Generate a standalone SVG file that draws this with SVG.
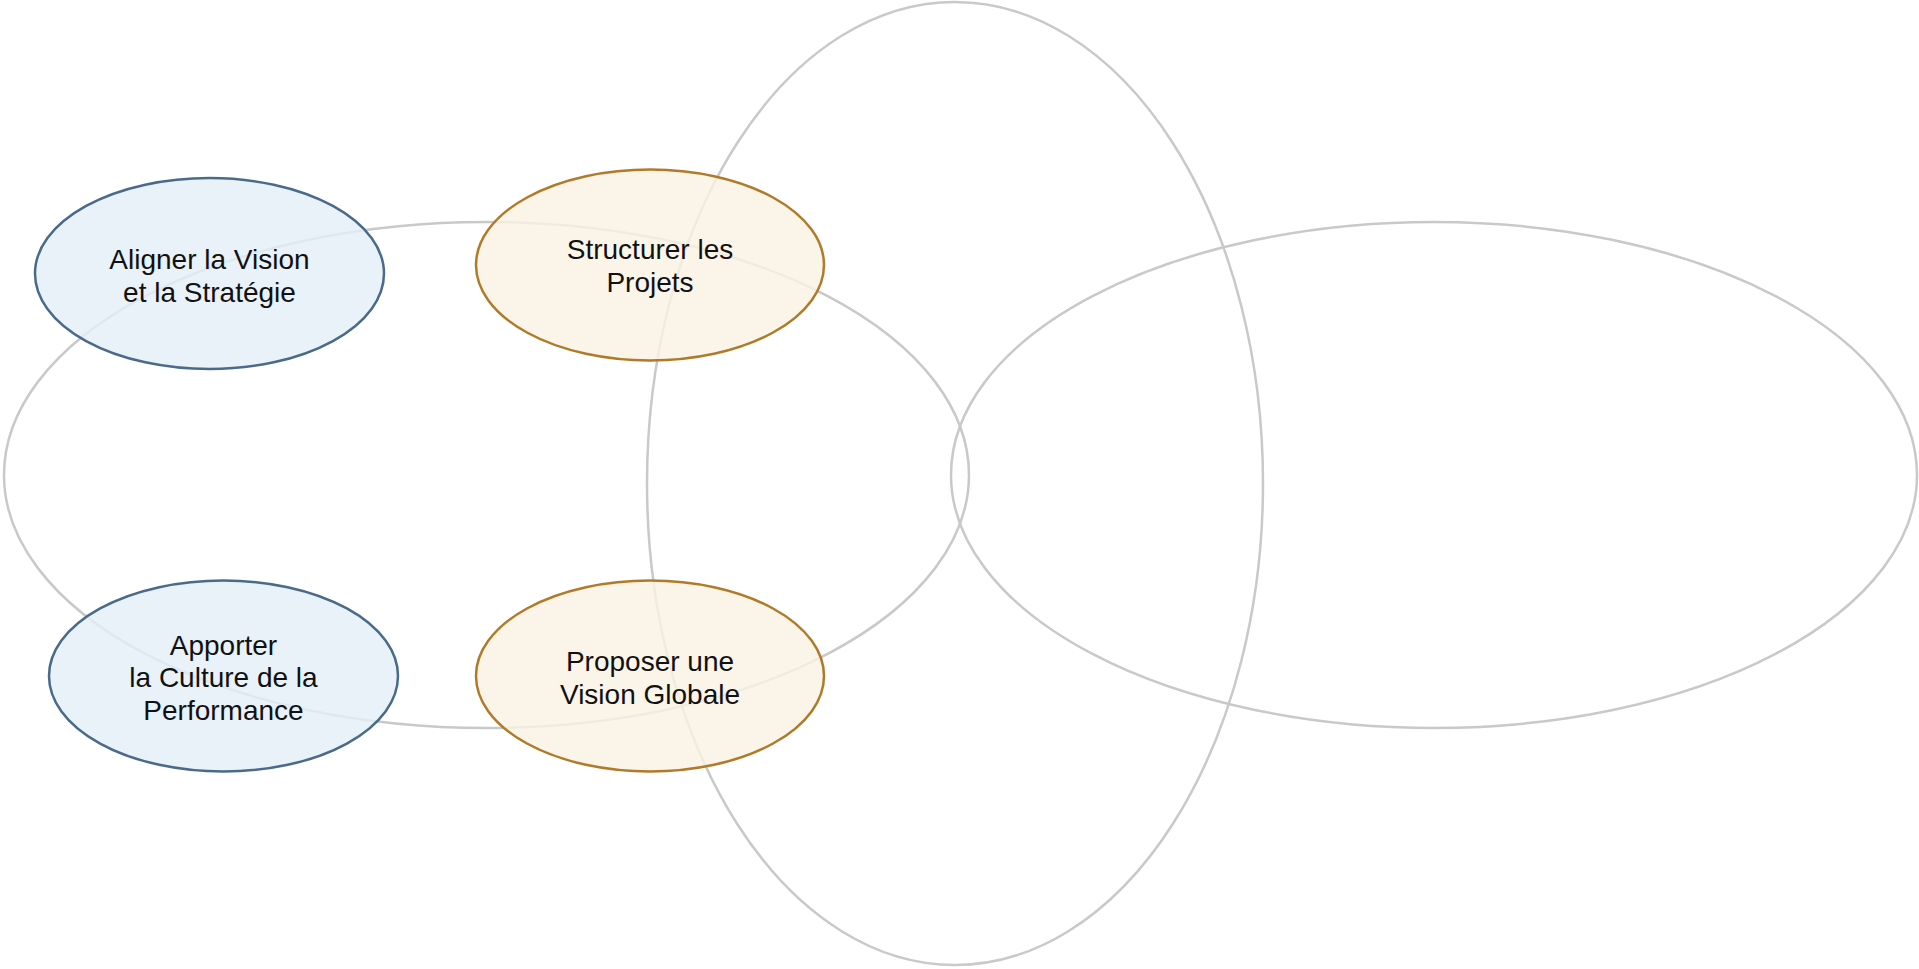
<svg xmlns="http://www.w3.org/2000/svg" width="1919" height="969" viewBox="0 0 1919 969">
<style>
.ring{fill:none;stroke:#c9c9c9;stroke-width:2.5}
.blue{fill:#e4eef8;fill-opacity:0.82;stroke:#4a6a8a;stroke-width:2.5}
.orange{fill:#faf1e4;fill-opacity:0.82;stroke:#b07a28;stroke-width:2.5}
text{font-family:"Liberation Sans",Arial,sans-serif;font-size:28px;fill:#111;text-anchor:middle}
</style>
<rect width="1919" height="969" fill="#fff"/>
<g id="connectors">
<ellipse class="ring" cx="486.5" cy="475" rx="482.5" ry="253"/>
<ellipse class="ring" cx="955" cy="483.5" rx="308" ry="481.5"/>
<ellipse class="ring" cx="1434" cy="475" rx="483" ry="253"/>
</g>
<g id="node-aligner">
<ellipse class="blue" cx="209.5" cy="273.5" rx="174.5" ry="95.5"/>
<text x="209.5" y="269">Aligner la Vision</text>
<text x="209.5" y="302">et la Stratégie</text>
</g>
<g id="node-structurer">
<ellipse class="orange" cx="650" cy="265" rx="174" ry="95.5"/>
<text x="650" y="259">Structurer les</text>
<text x="650" y="292">Projets</text>
</g>
<g id="node-apporter">
<ellipse class="blue" cx="223.5" cy="676" rx="174.5" ry="95.5"/>
<text x="223.5" y="654.5">Apporter</text>
<text x="223.5" y="687">la Culture de la</text>
<text x="223.5" y="720">Performance</text>
</g>
<g id="node-proposer">
<ellipse class="orange" cx="650" cy="676" rx="174" ry="95.5"/>
<text x="650" y="671">Proposer une</text>
<text x="650" y="704">Vision Globale</text>
</g>
</svg>
